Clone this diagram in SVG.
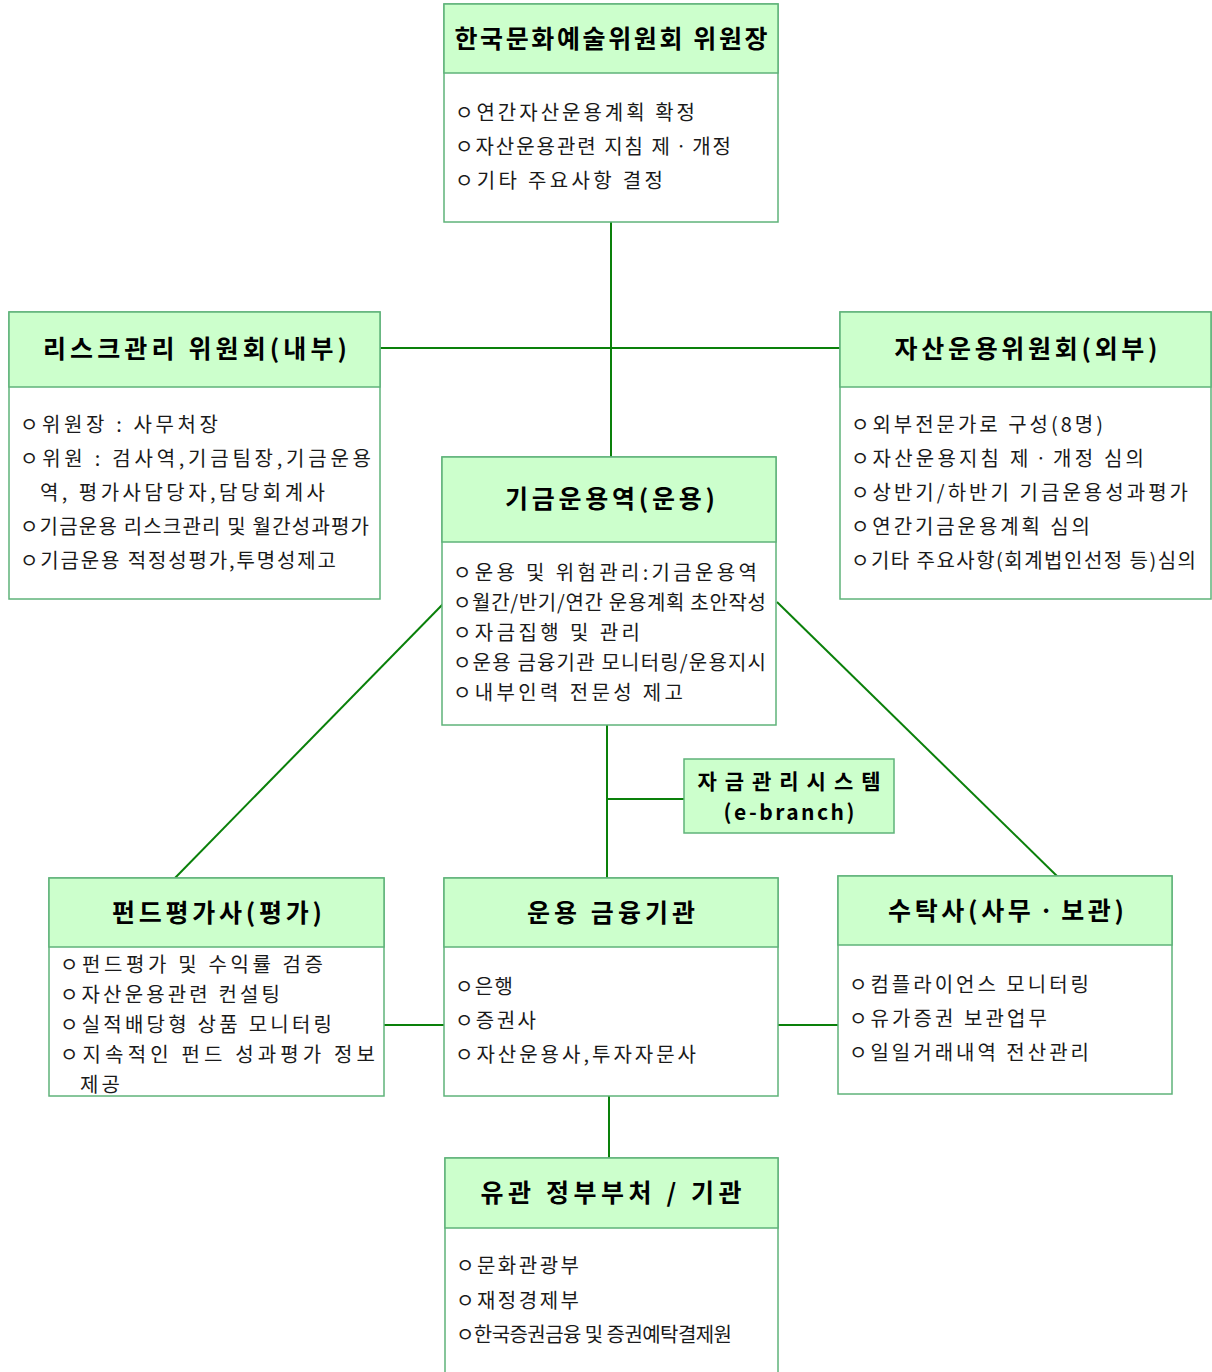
<svg xmlns="http://www.w3.org/2000/svg" width="1212" height="1372" viewBox="0 0 1212 1372">
<style>
.box{fill:#ffffff;stroke:#5fb37a;stroke-width:1.5}
.hd{fill:#ccffcc;stroke:#5fb37a;stroke-width:1.5}
.t{font-family:"Noto Sans CJK KR","Noto Sans",sans-serif;font-size:25px;font-weight:bold;fill:#000;text-anchor:middle}
.s{font-size:21px}
.b{font-family:"Noto Sans CJK KR","Noto Sans",sans-serif;font-size:20px;fill:#1a1a1a}
.c line{stroke:#0a800a;stroke-width:2}
</style>
<rect width="1212" height="1372" fill="#ffffff"/>
<g class="c" id="connectors">
<line x1="611" y1="222" x2="611" y2="457"/>
<line x1="380" y1="348" x2="840" y2="348"/>
<line x1="607" y1="725" x2="607" y2="878"/>
<line x1="607" y1="799" x2="684" y2="799"/>
<line x1="443" y1="604" x2="175" y2="878"/>
<line x1="777" y1="602" x2="1060" y2="879"/>
<line x1="384" y1="1025" x2="444" y2="1025"/>
<line x1="778" y1="1025" x2="838" y2="1025"/>
<line x1="609" y1="1096" x2="609" y2="1158"/>
</g>
<g id="chair">
<rect class="box" x="444" y="4" width="334" height="218"/>
<rect class="hd" x="444" y="4" width="334" height="69"/>
<text class="t" x="611" y="48" textLength="313" lengthAdjust="spacing">한국문화예술위원회 위원장</text>
<text class="b" x="455" y="120" textLength="240" lengthAdjust="spacing">ㅇ연간자산운용계획 확정</text>
<text class="b" x="455" y="154" textLength="276" lengthAdjust="spacing">ㅇ자산운용관련 지침 제ㆍ개정</text>
<text class="b" x="455" y="188" textLength="208" lengthAdjust="spacing">ㅇ기타 주요사항 결정</text>
</g>
<g id="risk">
<rect class="box" x="9" y="312" width="371" height="287"/>
<rect class="hd" x="9" y="312" width="371" height="75"/>
<text class="t" x="195" y="358" textLength="304" lengthAdjust="spacing">리스크관리 위원회(내부)</text>
<text class="b" x="20" y="432" textLength="198" lengthAdjust="spacing">ㅇ위원장 : 사무처장</text>
<text class="b" x="20" y="466" textLength="351" lengthAdjust="spacing">ㅇ위원 : 검사역,기금팀장,기금운용</text>
<text class="b" x="40" y="500" textLength="285" lengthAdjust="spacing">역, 평가사담당자,담당회계사</text>
<text class="b" x="20" y="534" textLength="349" lengthAdjust="spacing">ㅇ기금운용 리스크관리 및 월간성과평가</text>
<text class="b" x="20" y="568" textLength="316" lengthAdjust="spacing">ㅇ기금운용 적정성평가,투명성제고</text>
</g>
<g id="asset">
<rect class="box" x="840" y="312" width="371" height="287"/>
<rect class="hd" x="840" y="312" width="371" height="75"/>
<text class="t" x="1026" y="358" textLength="263" lengthAdjust="spacing">자산운용위원회(외부)</text>
<text class="b" x="851" y="432" textLength="252" lengthAdjust="spacing">ㅇ외부전문가로 구성(8명)</text>
<text class="b" x="851" y="466" textLength="293" lengthAdjust="spacing">ㅇ자산운용지침 제ㆍ개정 심의</text>
<text class="b" x="851" y="500" textLength="337" lengthAdjust="spacing">ㅇ상반기/하반기 기금운용성과평가</text>
<text class="b" x="851" y="534" textLength="239" lengthAdjust="spacing">ㅇ연간기금운용계획 심의</text>
<text class="b" x="851" y="568" textLength="345" lengthAdjust="spacing">ㅇ기타 주요사항(회계법인선정 등)심의</text>
</g>
<g id="fund-manager">
<rect class="box" x="442" y="457" width="334" height="268"/>
<rect class="hd" x="442" y="457" width="334" height="85"/>
<text class="t" x="610" y="508" textLength="210" lengthAdjust="spacing">기금운용역(운용)</text>
<text class="b" x="453" y="580" textLength="304" lengthAdjust="spacing">ㅇ운용 및 위험관리:기금운용역</text>
<text class="b" x="453" y="610" textLength="313" lengthAdjust="spacing">ㅇ월간/반기/연간 운용계획 초안작성</text>
<text class="b" x="453" y="640" textLength="187" lengthAdjust="spacing">ㅇ자금집행 및 관리</text>
<text class="b" x="453" y="670" textLength="313" lengthAdjust="spacing">ㅇ운용 금융기관 모니터링/운용지시</text>
<text class="b" x="453" y="700" textLength="230" lengthAdjust="spacing">ㅇ내부인력 전문성 제고</text>
</g>
<g id="system">
<rect class="hd" x="684" y="759" width="210" height="74"/>
<text class="t s" x="789" y="789" textLength="183" lengthAdjust="spacing">자금관리시스템</text>
<text class="t s" x="789" y="820" textLength="131" lengthAdjust="spacing">(e-branch)</text>
</g>
<g id="evaluator">
<rect class="box" x="49" y="878" width="335" height="218"/>
<rect class="hd" x="49" y="878" width="335" height="69"/>
<text class="t" x="217" y="922" textLength="210" lengthAdjust="spacing">펀드평가사(평가)</text>
<text class="b" x="60" y="972" textLength="263" lengthAdjust="spacing">ㅇ펀드평가 및 수익률 검증</text>
<text class="b" x="60" y="1002" textLength="220" lengthAdjust="spacing">ㅇ자산운용관련 컨설팅</text>
<text class="b" x="60" y="1032" textLength="272" lengthAdjust="spacing">ㅇ실적배당형 상품 모니터링</text>
<text class="b" x="60" y="1062" textLength="315" lengthAdjust="spacing">ㅇ지속적인 펀드 성과평가 정보</text>
<text class="b" x="80" y="1092" textLength="40" lengthAdjust="spacing">제공</text>
</g>
<g id="institutions">
<rect class="box" x="444" y="878" width="334" height="218"/>
<rect class="hd" x="444" y="878" width="334" height="69"/>
<text class="t" x="611" y="922" textLength="168" lengthAdjust="spacing">운용 금융기관</text>
<text class="b" x="455" y="994" textLength="58" lengthAdjust="spacing">ㅇ은행</text>
<text class="b" x="455" y="1028" textLength="81" lengthAdjust="spacing">ㅇ증권사</text>
<text class="b" x="455" y="1062" textLength="241" lengthAdjust="spacing">ㅇ자산운용사,투자자문사</text>
</g>
<g id="custodian">
<rect class="box" x="838" y="876" width="334" height="218"/>
<rect class="hd" x="838" y="876" width="334" height="69"/>
<text class="t" x="1006" y="920" textLength="236" lengthAdjust="spacing">수탁사(사무ㆍ보관)</text>
<text class="b" x="849" y="992" textLength="240" lengthAdjust="spacing">ㅇ컴플라이언스 모니터링</text>
<text class="b" x="849" y="1026" textLength="198" lengthAdjust="spacing">ㅇ유가증권 보관업무</text>
<text class="b" x="849" y="1060" textLength="240" lengthAdjust="spacing">ㅇ일일거래내역 전산관리</text>
</g>
<g id="government">
<rect class="box" x="445" y="1158" width="333" height="225"/>
<rect class="hd" x="445" y="1158" width="333" height="70"/>
<text class="t" x="611" y="1202" textLength="261" lengthAdjust="spacing">유관 정부부처 / 기관</text>
<text class="b" x="456" y="1273" textLength="123" lengthAdjust="spacing">ㅇ문화관광부</text>
<text class="b" x="456" y="1308" textLength="123" lengthAdjust="spacing">ㅇ재정경제부</text>
<text class="b" x="456" y="1342" textLength="276" lengthAdjust="spacing">ㅇ한국증권금융 및 증권예탁결제원</text>
</g>
</svg>
